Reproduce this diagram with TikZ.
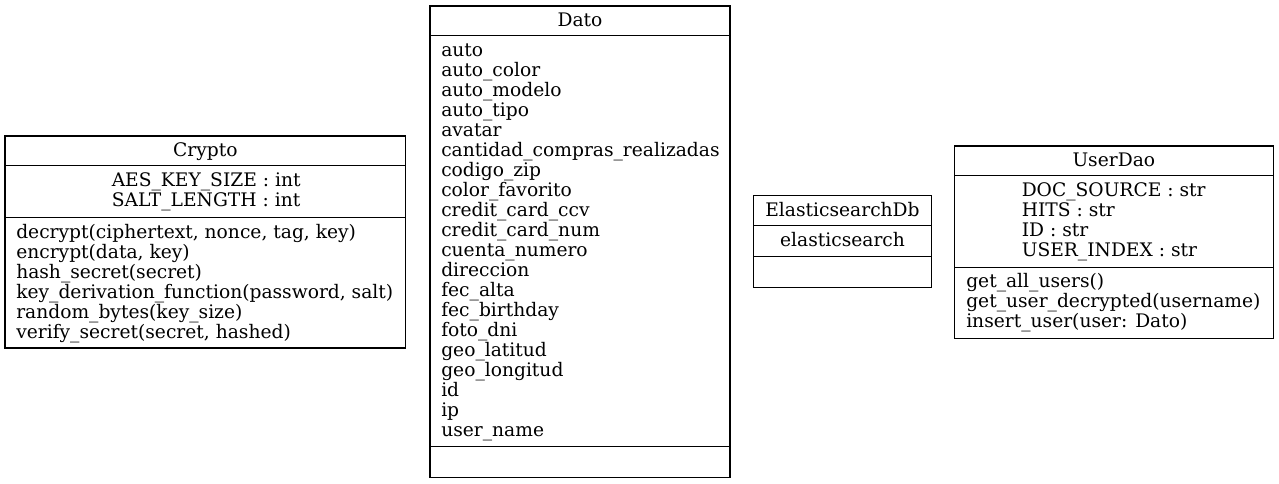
\documentclass[tikz,border=0pt]{standalone}
\usepackage{fontspec}
\setmainfont{DejaVu Serif}
\begin{document}
\begin{tikzpicture}[x=0.75pt,y=-0.75pt,
  txt/.style={inner sep=0pt, font=\fontsize{14}{15}\selectfont, text=black},
  lft/.style={txt, anchor=base west},
  ctr/.style={txt, anchor=base},
  box/.style={draw=black, line width=0.9pt},
  sepline/.style={draw=black, line width=0.75pt}]
\useasboundingbox[fill=white] (0,0) rectangle (1279,484);

% ---------- Crypto ----------
\draw[box] (5,136) rectangle (405.5,348);
\draw[sepline] (5,166) -- (405.5,166);
\draw[sepline] (5,217.5) -- (405.5,217.5);
\node[ctr] (cryptoT) at (205.3,156.7) {Crypto};
\node[lft] (cryptoA1) at (111.5,186.7) {AES\_KEY\_SIZE : int};
\node[lft] (cryptoA2) at (111.5,206.7) {SALT\_LENGTH : int};
\foreach \t [count=\i from 0] in {{decrypt(ciphertext, nonce, tag, key)},{encrypt(data, key)},{hash\_secret(secret)},{key\_derivation\_function(password, salt)},{random\_bytes(key\_size)},{verify\_secret(secret, hashed)}}
  \node[lft] (cryptoM\i) at (16,238.2+20*\i) {\t};

% ---------- Dato ----------
\draw[box] (430,6) rectangle (730,477.3);
\draw[sepline] (430,36) -- (730,36);
\draw[sepline] (430,446.7) -- (730,446.7);
\node[ctr] (datoT) at (580,26.7) {Dato};
\foreach \t [count=\i from 0] in {auto,auto\_color,auto\_modelo,auto\_tipo,avatar,cantidad\_compras\_realizadas,codigo\_zip,color\_favorito,credit\_card\_ccv,credit\_card\_num,cuenta\_numero,direccion,fec\_alta,fec\_birthday,foto\_dni,geo\_latitud,geo\_longitud,id,ip,user\_name}
  \node[lft] (datoA\i) at (441,56.6+20*\i) {\t};

% ---------- ElasticsearchDb ----------
\draw[box] (753.3,195.7) rectangle (931.7,287.7);
\draw[sepline] (753.3,226) -- (931.7,226);
\draw[sepline] (753.3,256.7) -- (931.7,256.7);
\node[ctr] (esT) at (842.5,216.4) {ElasticsearchDb};
\node[ctr] (esA) at (842.5,246.7) {elasticsearch};

% ---------- UserDao ----------
\draw[box] (954.3,146) rectangle (1273.3,338.7);
\draw[sepline] (954.3,176) -- (1273.3,176);
\draw[sepline] (954.3,267.3) -- (1273.3,267.3);
\node[ctr] (udT) at (1113.8,166.7) {UserDao};
\foreach \t [count=\i from 0] in {{DOC\_SOURCE : str},{HITS : str},{ID : str},{USER\_INDEX : str}}
  \node[lft] (udA\i) at (1021.5,196.3+20*\i) {\t};
\foreach \t [count=\i from 0] in {{get\_all\_users()},{get\_user\_decrypted(username)},{insert\_user(user: Dato)}}
  \node[lft] (udM\i) at (966,307.6+20*\i-20) {\t};
\end{tikzpicture}
\end{document}
